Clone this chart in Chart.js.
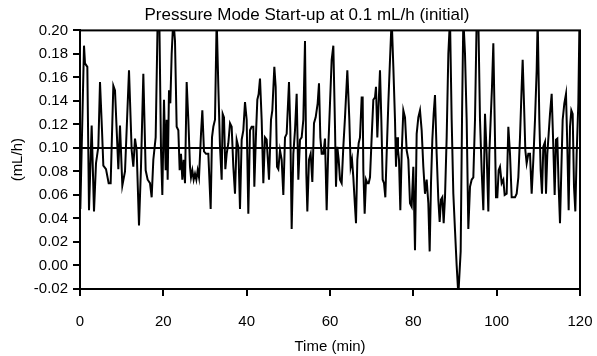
<!DOCTYPE html>
<html>
<head>
<meta charset="utf-8">
<script src="https://cdn.jsdelivr.net/npm/chart.js@4.4.1/dist/chart.umd.min.js"></script>
<style>
  html, body { margin: 0; padding: 0; background: #fff; }
  #wrap { width: 597px; height: 356px; }
</style>
</head>
<body>
<div id="wrap"><canvas id="flujo"></canvas></div>
<script>
// time (min) and flow (mL/h)
const tiempos = [
  0.08, 0.96, 1.2, 1.76, 2.16, 2.8, 3.36, 3.84, 4.4, 4.8, 5.28, 5.6, 6.24, 6.88, 7.36, 8.0, 8.4, 9.2, 9.6, 10.16,
  10.8, 11.76, 12.4, 12.8, 13.2, 13.6, 14.16, 14.64, 15.2, 15.76, 16.24, 16.8, 17.2, 17.6, 18.16, 18.64, 19.04, 19.44, 19.76, 20.16,
  20.56, 20.8, 21.04, 21.36, 21.68, 22.0, 22.4, 22.8, 23.2, 23.6, 23.92, 24.24, 24.56, 24.88, 25.2, 25.6, 26.0, 26.4, 26.64, 26.96,
  27.28, 27.6, 27.92, 28.24, 28.56, 29.04, 29.36, 29.76, 30.24, 30.8, 31.36, 31.68, 32.0, 32.4, 32.8, 33.2, 33.6, 34.0, 34.24, 34.56,
  34.88, 35.2, 35.6, 36.0, 36.4, 36.8, 37.2, 37.6, 38.0, 38.4, 38.8, 39.2, 39.6, 40.0, 40.4, 40.8, 41.2, 41.6, 41.84, 42.24,
  42.56, 42.88, 43.2, 43.6, 44.0, 44.4, 44.8, 45.36, 45.84, 46.16, 46.64, 46.96, 47.28, 47.6, 48.0, 48.4, 48.8, 49.2, 49.6, 50.16,
  50.48, 50.8, 51.2, 51.6, 52.0, 52.4, 52.8, 53.2, 53.6, 54.0, 54.32, 54.56, 54.96, 55.36, 55.76, 56.16, 56.56, 57.04, 57.36, 57.68,
  58.0, 58.4, 58.8, 59.2, 59.6, 60.0, 60.4, 60.8, 61.2, 61.44, 61.76, 62.08, 62.4, 62.8, 63.2, 63.6, 64.16, 64.64, 64.96, 65.28,
  65.6, 66.0, 66.24, 66.56, 66.88, 67.2, 67.6, 67.84, 68.0, 68.32, 68.64, 68.96, 69.28, 69.6, 70.0, 70.4, 70.8, 71.04, 71.36, 71.68,
  72.0, 72.32, 72.64, 72.96, 73.28, 73.6, 74.0, 74.4, 74.8, 75.2, 75.6, 75.84, 76.08, 76.32, 76.56, 76.88, 77.2, 77.6, 78.0, 78.4,
  78.8, 79.2, 79.6, 80.0, 80.4, 80.8, 81.2, 81.6, 82.0, 82.4, 82.8, 83.2, 83.6, 83.92, 84.24, 84.56, 84.88, 85.2, 85.6, 86.0,
  86.32, 86.64, 86.96, 87.28, 87.6, 88.0, 88.4, 88.8, 89.2, 89.6, 90.0, 90.4, 90.8, 91.36, 91.7, 92.0, 92.4, 92.8, 93.2, 93.6,
  94.0, 94.4, 94.8, 95.2, 95.6, 96.0, 96.4, 96.8, 97.2, 97.6, 98.0, 98.24, 98.56, 98.88, 99.2, 99.52, 99.84, 100.16, 100.48, 100.8,
  101.2, 101.6, 101.92, 102.4, 102.8, 103.2, 103.6, 104.0, 104.4, 104.8, 105.2, 105.6, 106.0, 106.24, 106.56, 106.88, 107.2, 107.6, 108.0, 108.4,
  108.8, 109.2, 109.6, 109.84, 110.24, 110.56, 110.88, 111.2, 111.6, 111.84, 112.16, 112.48, 112.8, 113.2, 113.6, 113.92, 114.24, 114.56, 114.88, 115.2,
  115.52, 115.84, 116.24, 116.64, 116.96, 117.28, 117.6, 117.92, 118.24, 118.56, 118.88, 119.2, 119.6, 119.84,
];
const flujo = [
  0.048, 0.187, 0.172, 0.169, 0.047, 0.119, 0.046, 0.087, 0.101, 0.156, 0.115, 0.085, 0.082, 0.070, 0.070, 0.153, 0.149, 0.082, 0.119, 0.068,
  0.080, 0.166, 0.098, 0.084, 0.108, 0.098, 0.034, 0.084, 0.163, 0.081, 0.073, 0.070, 0.058, 0.090, 0.109, 0.210, 0.210, 0.098, 0.060, 0.141,
  0.081, 0.124, 0.073, 0.149, 0.138, 0.180, 0.210, 0.191, 0.118, 0.115, 0.081, 0.095, 0.073, 0.090, 0.070, 0.156, 0.124, 0.084, 0.075, 0.081,
  0.073, 0.078, 0.073, 0.081, 0.075, 0.112, 0.132, 0.097, 0.095, 0.095, 0.048, 0.109, 0.118, 0.124, 0.210, 0.152, 0.101, 0.073, 0.129, 0.126,
  0.082, 0.095, 0.104, 0.121, 0.118, 0.084, 0.061, 0.107, 0.101, 0.048, 0.107, 0.115, 0.139, 0.124, 0.044, 0.115, 0.118, 0.118, 0.067, 0.112,
  0.141, 0.146, 0.159, 0.124, 0.070, 0.109, 0.107, 0.073, 0.124, 0.132, 0.169, 0.152, 0.084, 0.082, 0.098, 0.090, 0.060, 0.109, 0.112, 0.156,
  0.115, 0.031, 0.095, 0.115, 0.146, 0.073, 0.107, 0.109, 0.124, 0.191, 0.078, 0.046, 0.090, 0.095, 0.071, 0.121, 0.126, 0.138, 0.155, 0.109,
  0.095, 0.095, 0.108, 0.047, 0.101, 0.138, 0.175, 0.187, 0.118, 0.067, 0.101, 0.090, 0.073, 0.070, 0.101, 0.126, 0.166, 0.124, 0.084, 0.090,
  0.075, 0.050, 0.036, 0.090, 0.104, 0.109, 0.143, 0.143, 0.081, 0.044, 0.073, 0.070, 0.070, 0.075, 0.109, 0.141, 0.143, 0.152, 0.109, 0.138,
  0.166, 0.124, 0.073, 0.070, 0.058, 0.095, 0.138, 0.175, 0.210, 0.169, 0.124, 0.084, 0.109, 0.098, 0.090, 0.047, 0.095, 0.132, 0.126, 0.098,
  0.090, 0.053, 0.050, 0.084, 0.013, 0.112, 0.126, 0.132, 0.115, 0.084, 0.061, 0.073, 0.053, 0.012, 0.070, 0.107, 0.129, 0.145, 0.095, 0.056,
  0.037, 0.056, 0.058, 0.036, 0.058, 0.109, 0.180, 0.210, 0.124, 0.061, 0.030, 0.000, -0.025, 0.012, 0.130, 0.210, 0.180, 0.124, 0.031, 0.067,
  0.073, 0.075, 0.124, 0.210, 0.210, 0.124, 0.081, 0.047, 0.129, 0.095, 0.046, 0.095, 0.124, 0.152, 0.189, 0.124, 0.058, 0.058, 0.081, 0.084,
  0.070, 0.073, 0.060, 0.061, 0.118, 0.095, 0.058, 0.058, 0.058, 0.061, 0.075, 0.109, 0.152, 0.175, 0.138, 0.098, 0.087, 0.095, 0.095, 0.061,
  0.090, 0.124, 0.166, 0.210, 0.124, 0.081, 0.061, 0.101, 0.105, 0.061, 0.095, 0.112, 0.129, 0.146, 0.101, 0.060, 0.107, 0.108, 0.067, 0.036,
  0.081, 0.124, 0.138, 0.146, 0.101, 0.047, 0.118, 0.132, 0.129, 0.067, 0.046, 0.095, 0.138, 0.200,
];
const objetivo = 0.1; // set point line
const xTicks = [0, 20, 40, 60, 80, 100, 120];
const yTicks = [-0.02, 0, 0.02, 0.04, 0.06, 0.08, 0.1, 0.12, 0.14, 0.16, 0.18, 0.2];

const fuente = "'Liberation Sans', Arial, sans-serif";

// frame round the plot area
const marco = {
  id: "marco",
  afterDraw(chart) {
    const { ctx, chartArea: a } = chart;
    ctx.save();
    ctx.strokeStyle = "#000";
    ctx.lineWidth = 2;
    ctx.strokeRect(a.left, a.top, a.right - a.left, a.bottom - a.top);
    ctx.restore();
  },
};

new Chart(document.getElementById("flujo"), {
  type: "line",
  data: {
    datasets: [
      {
        data: tiempos.map((t, i) => ({ x: t, y: flujo[i] })),
        borderColor: "#000",
        borderWidth: 2,
        pointRadius: 0,
        tension: 0,
      },
      {
        data: [{ x: xTicks[0], y: objetivo }, { x: xTicks[xTicks.length - 1], y: objetivo }],
        borderColor: "#000",
        borderWidth: 2,
        pointRadius: 0,
      },
    ],
  },
  options: {
    responsive: true,
    maintainAspectRatio: false,
    animation: false,
    layout: { padding: { left: 34, right: 17, top: 0, bottom: 0 } },
    plugins: {
      legend: { display: false },
      tooltip: { enabled: false },
      title: {
        display: true,
        text: "Pressure Mode Start-up at 0.1 mL/h (initial)",
        color: "#000",
        font: { family: fuente, size: 17, weight: "normal" },
        padding: { top: 5, bottom: 5 },
      },
    },
    scales: {
      x: {
        type: "linear",
        min: 0,
        max: 120,
        afterBuildTicks: (s) => { s.ticks = xTicks.map((v) => ({ value: v })); },
        afterFit: (s) => {
          s.height = 67;
          s.paddingLeft = 0;
          s.paddingRight = 0;
        },
        ticks: { color: "#000", font: { family: fuente, size: 15 }, padding: 17 },
        grid: { drawOnChartArea: false, color: "#000", lineWidth: 2, tickLength: 7 },
        border: { color: "#000", width: 2 },
        title: {
          display: true,
          text: "Time (min)",
          color: "#000",
          font: { family: fuente, size: 15 },
          padding: { top: 0, bottom: 0 },
        },
      },
      y: {
        min: -0.02,
        max: 0.2,
        afterBuildTicks: (s) => { s.ticks = yTicks.map((v) => ({ value: v })); },
        afterFit: (s) => { s.width = 46; },
        ticks: {
          color: "#000",
          font: { family: fuente, size: 15 },
          padding: 5,
          callback: (v) => v.toFixed(2),
        },
        grid: { drawOnChartArea: false, color: "#000", lineWidth: 2, tickLength: 7 },
        border: { color: "#000", width: 2 },
        title: {
          display: true,
          text: "(mL/h)",
          color: "#000",
          font: { family: fuente, size: 15 },
          padding: { top: -25, bottom: 0 },
        },
      },
    },
  },
  plugins: [marco],
});
</script>
</body>
</html>
